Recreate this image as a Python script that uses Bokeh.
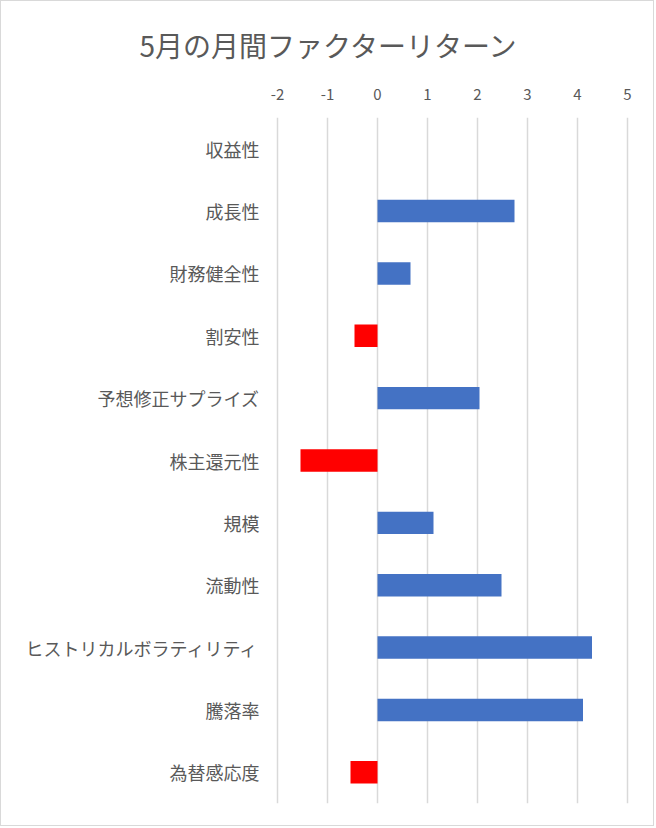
from bokeh.plotting import figure
from bokeh.models import FactorRange, Range1d, FixedTicker, ColumnDataSource
from bokeh.embed import file_html
from bokeh.resources import INLINE

# ---- data ----
title_text = "5月の月間ファクターリターン"
categories = ["収益性", "成長性", "財務健全性", "割安性", "予想修正サプライズ", "株主還元性",
              "規模", "流動性", "ヒストリカルボラティリティ", "騰落率", "為替感応度"]
values = [0.0, 2.74, 0.66, -0.46, 2.04, -1.54, 1.12, 2.48, 4.29, 4.11, -0.54]
x_ticks = [-2, -1, 0, 1, 2, 3, 4, 5]
x_tick_labels = ["-2", "-1", "0", "1", "2", "3", "4", "5"]

POS = "#4472C4"
NEG = "#FF0000"
TXT = "#595959"
FONT = "Noto Sans CJK JP"

colors = [POS if v >= 0 else NEG for v in values]
src = ColumnDataSource(dict(cat=categories, val=values, color=colors))

W, H = 654, 826
p = figure(width=W, height=H, output_backend="svg", toolbar_location=None,
           x_range=Range1d(-2.04, 5.04), y_range=FactorRange(factors=list(reversed(categories))),
           x_axis_location="above",
           min_border_left=274, min_border_right=26, min_border_top=114, min_border_bottom=24)

p.hbar(y="cat", left=0, right="val", height=0.36, color="color", source=src, line_width=0)

p.outline_line_color = None
p.ygrid.grid_line_color = None
p.xgrid.ticker = FixedTicker(ticks=x_ticks)
p.xgrid.grid_line_color = "#d9d9d9"
p.xgrid.grid_line_width = 1.5

xa = p.xaxis[0]
xa.ticker = FixedTicker(ticks=x_ticks)
xa.major_label_overrides = {t: l for t, l in zip(x_ticks, x_tick_labels)}
xa.axis_line_color = None
xa.major_tick_line_color = None
xa.minor_tick_line_color = None
xa.major_label_text_font = FONT
xa.major_label_text_font_size = "15px"
xa.major_label_text_color = TXT
xa.major_label_standoff = 12

ya = p.yaxis[0]
ya.axis_line_color = None
ya.major_tick_line_color = None
ya.minor_tick_line_color = None
ya.major_label_text_font = FONT
ya.major_label_text_font_size = "18px"
ya.major_label_text_color = TXT
ya.major_label_standoff = 10

p.title.text = title_text
p.title.align = "left"
p.title.offset = -136
p.title.text_font = FONT
p.title.text_font_size = "28px"
p.title.text_font_style = "normal"
p.title.text_color = TXT
p.title.standoff = 42

p.styles = {"border": "1px solid #d9d9d9"}

open("out.html", "w").write(file_html(p, INLINE))
